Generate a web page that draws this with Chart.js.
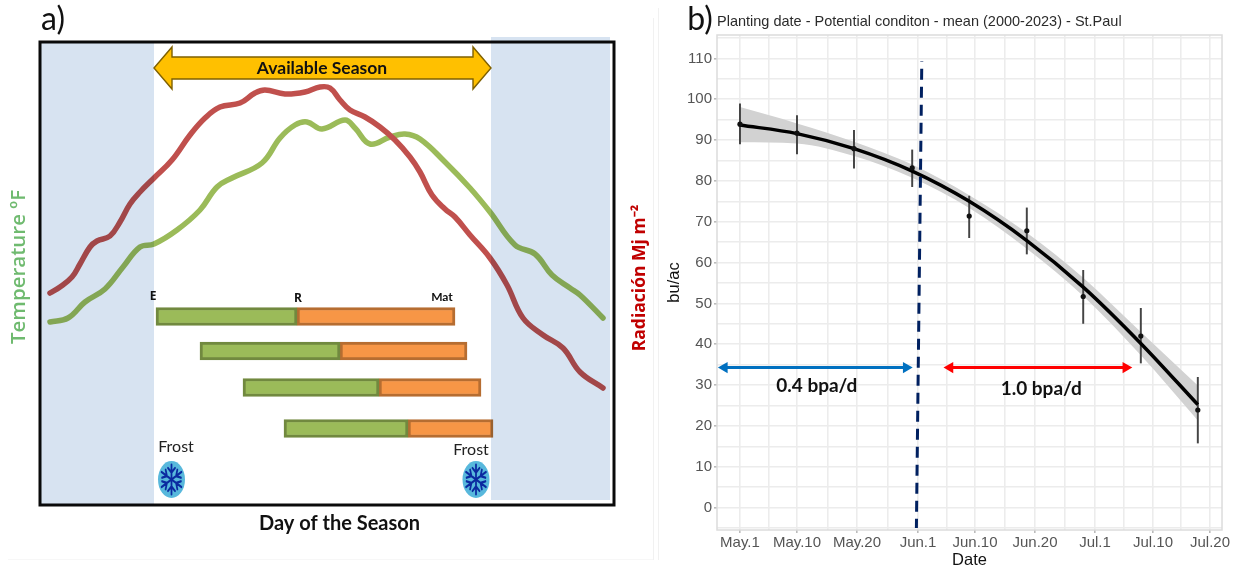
<!DOCTYPE html>
<html>
<head>
<meta charset="utf-8">
<style>
  html, body { margin: 0; padding: 0; background: #ffffff; overflow: hidden; }
  #page { position: relative; width: 1233px; height: 569px; }
  #wrapA { position: absolute; left: 0; top: 0; width: 654px; height: 569px; }
  #wrapB { position: absolute; left: 660px; top: 0; width: 573px; height: 569px; }
  canvas { display: block; }
  .rule { position: absolute; background: #f1f1f1; }
</style>
<script src="https://cdn.jsdelivr.net/npm/chart.js@4"></script>
</head>
<body>
<div id="page">
  <div class="rule" style="left:653px;top:18px;width:1px;height:542px"></div>
  <div class="rule" style="left:658px;top:8px;width:1px;height:552px"></div>
  <div class="rule" style="left:8px;top:559px;width:645px;height:1px;background:#f7f7f7"></div>
  <div id="wrapA"><canvas id="chartA" width="654" height="569"></canvas></div>
  <div id="wrapB"><canvas id="chartB" width="573" height="569"></canvas></div>
</div>
<script>
/* ---------- panel a data (day of season, relative level) ---------- */
var radDays = [10, 20, 32, 40, 50, 57, 70, 80, 90, 100, 114, 132, 150, 165, 180, 200, 215, 225, 245, 265, 280, 290, 300, 310, 325, 340, 355, 370, 380, 392, 405, 415, 430, 450, 467, 483, 503, 523, 540, 563];
var radValues = [212, 218, 228, 241, 258, 264, 269, 283, 301, 313, 327, 345, 370, 387, 398, 402, 412, 415, 411, 413, 418, 417, 405, 395, 388, 378, 365, 348, 333, 310, 296, 288, 270, 247, 220, 187, 170, 157, 133, 117];
var tempDays = [10, 28, 45, 65, 83, 100, 114, 137, 160, 177, 192, 222, 240, 255, 267, 282, 305, 315, 330, 350, 365, 380, 405, 430, 450, 475, 495, 512, 530, 540, 563];
var tempValues = [183, 187, 203, 216, 238, 258, 261, 275, 295, 318, 327, 342, 367, 380, 383, 376, 385, 377, 361, 368, 371, 366, 343, 317, 293, 260, 251, 230, 217, 210, 187];

var seasonLabel = "Available Season";
var seasonStart = 114;
var seasonEnd = 451;
var frostDays = [131.5, 436];

var cropRows = [188.5, 154, 117.5, 76.5];
var emergeDays = [116, 160, 203, 244];
var reproDays = [257, 300, 339, 368];
var matureDays = [415, 427, 441, 453];

/* ---------- panel b data ---------- */
var plantX = [0, 9.5, 19, 28.7, 38.2, 47.8, 57.2, 66.8, 76.3];
var meanYield = [93.9, 91.7, 87.9, 83.2, 71.4, 67.8, 51.7, 42, 23.9];
var errHigh = [98.9, 96, 92.4, 87.6, 76.3, 73.4, 58.1, 48.8, 31.9];
var errLow = [89.1, 86.6, 83.1, 78.6, 66.1, 62.1, 45.1, 35.4, 15.8];
var fitYield = [93.7, 91.6, 87.9, 82.4, 75, 65.4, 54, 40.2, 25.2];
var fitHigh = [98.1, 94.1, 89.6, 84, 76.5, 67.3, 56.3, 43, 29.9];
var fitLow = [89.5, 89.2, 86.1, 80.8, 73.4, 63.4, 51.8, 37.3, 21.3];

var xTickValues = [0, 9.5, 19.5, 29.67, 39.17, 49.17, 59.17, 68.83, 78.33];
var xTickLabels = ["May.1", "May.10", "May.20", "Jun.1", "Jun.10", "Jun.20", "Jul.1", "Jul.10", "Jul.20"];
var xMinorValues = [4.83, 14.67, 24.67, 34.5, 44.17, 54.17, 64, 73.5];
var yTickValues = [0, 10, 20, 30, 40, 50, 60, 70, 80, 90, 100, 110];
var yMinorValues = [-5, 5, 15, 25, 35, 45, 55, 65, 75, 85, 95, 105, 115];

var cutoffX = [30.3, 29.4];
var cutoffY = [109.3, -5];
var slowArrowX = [-2.6, 27.7];
var fastArrowX = [35, 64.3];
var arrowLevel = [34.3, 34.3];

/* ---------- shared text helper ---------- */
function drawText(ctx, text, x, y, font, color, rotate, align) {
  ctx.save();
  ctx.translate(x, y);
  if (rotate) ctx.rotate(rotate);
  ctx.font = font;
  ctx.fillStyle = color;
  ctx.textAlign = align || "center";
  ctx.textBaseline = "middle";
  ctx.fillText(text, 0, 0);
  ctx.restore();
}

/* ---------- panel a: bands, frame, season arrow, frost, texts ---------- */
var panelAPlugin = {
  id: "panelA",
  afterDatasetsDraw: function (chart) {
    var ctx = chart.ctx;
    var xs = chart.scales.x;
    var ys = chart.scales.y;
    var area = chart.chartArea;

    // frame first so the bands tint over it like in the original slide
    ctx.save();
    ctx.strokeStyle = "#0a0a0a";
    ctx.lineWidth = 3;
    ctx.strokeRect(area.left, area.top, area.right - area.left, area.bottom - area.top);
    ctx.restore();

    ctx.save();
    ctx.globalCompositeOperation = "multiply";
    ctx.fillStyle = "#d7e3f1";
    var l0 = xs.getPixelForValue(0), l1 = xs.getPixelForValue(seasonStart);
    ctx.fillRect(l0, ys.getPixelForValue(463), l1 - l0, ys.getPixelForValue(0) - ys.getPixelForValue(463));
    var r0 = xs.getPixelForValue(seasonEnd), r1 = xs.getPixelForValue(570);
    ctx.fillRect(r0, ys.getPixelForValue(468), r1 - r0, ys.getPixelForValue(5) - ys.getPixelForValue(468));
    ctx.restore();

    // double arrow
    var ax0 = xs.getPixelForValue(seasonStart), ax1 = xs.getPixelForValue(seasonEnd);
    var my = 68;
    ctx.save();
    ctx.beginPath();
    ctx.moveTo(ax0, my);
    ctx.lineTo(ax0 + 18, my - 21);
    ctx.lineTo(ax0 + 18, my - 11);
    ctx.lineTo(ax1 - 18, my - 11);
    ctx.lineTo(ax1 - 18, my - 21);
    ctx.lineTo(ax1, my);
    ctx.lineTo(ax1 - 18, my + 21);
    ctx.lineTo(ax1 - 18, my + 11);
    ctx.lineTo(ax0 + 18, my + 11);
    ctx.lineTo(ax0 + 18, my + 21);
    ctx.closePath();
    ctx.fillStyle = "#ffc000";
    ctx.fill();
    ctx.strokeStyle = "#7f6000";
    ctx.lineWidth = 1.4;
    ctx.stroke();
    ctx.restore();
    drawText(ctx, seasonLabel, 322, 68, "bold 17.5px Lato", "#111111");

    // frost icons
    frostDays.forEach(function (d, i) {
      var fx = xs.getPixelForValue(d);
      var fy = ys.getPixelForValue(25.5);
      ctx.save();
      ctx.translate(fx, fy);
      ctx.save();
      ctx.scale(13.5, 18.5);
      ctx.beginPath();
      ctx.arc(0, 0, 1, 0, Math.PI * 2);
      ctx.restore();
      ctx.fillStyle = "#58b8dc";
      ctx.fill();
      ctx.strokeStyle = "#0b2aa0";
      ctx.lineWidth = 2;
      ctx.lineCap = "round";
      for (var a = 0; a < 6; a++) {
        ctx.save();
        ctx.scale(0.88, 1.15);
        ctx.rotate(a * Math.PI / 3);
        ctx.beginPath();
        ctx.moveTo(0, 0);
        ctx.lineTo(0, -13);
        ctx.moveTo(0, -6);
        ctx.lineTo(-4, -10);
        ctx.moveTo(0, -6);
        ctx.lineTo(4, -10);
        ctx.stroke();
        ctx.restore();
      }
      ctx.restore();
      drawText(ctx, "Frost", i === 0 ? 176 : 471, i === 0 ? 447 : 450, "16px Lato", "#222222");
    });

    drawText(ctx, "E", 153, 297, "bold 12px 'Open Sans'", "#111111");
    drawText(ctx, "R", 298, 299, "bold 12px 'Open Sans'", "#111111");
    drawText(ctx, "Mat", 442, 297, "bold 12px Lato", "#111111");
    drawText(ctx, "Day of the Season", 339.5, 524, "bold 20px Lato", "#111111");
    drawText(ctx, "a)", 53, 20, "32px Lato", "#111111");
    drawText(ctx, "Temperature \u00baF", 19, 267, "600 20.5px 'Open Sans'", "#6fba6f", -Math.PI / 2);
    drawText(ctx, "Radiaci\u00f3n Mj m\u207b\u00b2", 640, 278, "bold 17.5px 'Open Sans'", "#c00000", -Math.PI / 2);
  }
};

function pairs(xs, ys) {
  return xs.map(function (x, i) { return { x: x, y: ys[i] }; });
}
function ranges(rows, from, to) {
  return rows.map(function (r, i) { return { y: r, x: [from[i], to[i]] }; });
}

new Chart(document.getElementById("chartA"), {
  type: "line",
  data: {
    datasets: [
      {
        label: "Temperature", data: pairs(tempDays, tempValues), borderColor: "#9bbb59",
        borderWidth: 5.5, pointRadius: 0, tension: 0.4, borderCapStyle: "round", order: 2
      },
      {
        label: "Radiation", data: pairs(radDays, radValues), borderColor: "#c0504d",
        borderWidth: 5.5, pointRadius: 0, tension: 0.4, borderCapStyle: "round", order: 1
      },
      {
        type: "bar", label: "Vegetative", indexAxis: "y", data: ranges(cropRows, emergeDays, reproDays),
        backgroundColor: "#9bbb59", borderColor: "#71893f", borderWidth: 3, borderSkipped: false,
        barThickness: 18, grouped: false, order: 0
      },
      {
        type: "bar", label: "Reproductive", indexAxis: "y", data: ranges(cropRows, reproDays, matureDays),
        backgroundColor: "#f79646", borderColor: "#b66d31", borderWidth: 3, borderSkipped: false,
        barThickness: 18, grouped: false, order: 0
      }
    ]
  },
  options: {
    responsive: false,
    animation: false,
    layout: { padding: { left: 40, top: 42, right: 40, bottom: 64 } },
    plugins: { legend: { display: false }, tooltip: { enabled: false } },
    scales: {
      x: { type: "linear", display: false, min: 0, max: 574, offset: false },
      y: { type: "linear", display: false, min: 0, max: 463, offset: false }
    }
  },
  plugins: [panelAPlugin]
});

/* ---------- panel b ---------- */
var panelBPlugin = {
  id: "panelB",
  afterDatasetsDraw: function (chart) {
    var ctx = chart.ctx;
    var area = chart.chartArea;
    var xs = chart.scales.x;
    var ys = chart.scales.y;
    ctx.save();
    ctx.strokeStyle = "#dcdcdc";
    ctx.lineWidth = 1.5;
    ctx.strokeRect(area.left, area.top, area.right - area.left, area.bottom - area.top);
    ctx.restore();
    drawText(ctx, "Planting date - Potential conditon - mean (2000-2023) - St.Paul", 57, 22, "14.5px 'Liberation Sans'", "#2b2b2b", 0, "left");
    drawText(ctx, "b)", 40, 20, "32px Lato", "#111111");
    drawText(ctx, "0.4 bpa/d", xs.getPixelForValue(12.8), ys.getPixelForValue(29.8), "bold 19px Lato", "#111111");
    drawText(ctx, "1.0 bpa/d", xs.getPixelForValue(50.2), ys.getPixelForValue(29), "bold 19px Lato", "#111111");
  }
};

new Chart(document.getElementById("chartB"), {
  type: "line",
  data: {
    datasets: [
      {
        label: "ribbon high", data: pairs(plantX, fitHigh), borderWidth: 0, pointRadius: 0,
        cubicInterpolationMode: "monotone", fill: "+1", backgroundColor: "#d2d2d2", order: 5
      },
      {
        label: "ribbon low", data: pairs(plantX, fitLow), borderWidth: 0, pointRadius: 0,
        cubicInterpolationMode: "monotone", fill: false, order: 5
      },
      {
        label: "fit", data: pairs(plantX, fitYield), borderColor: "#000000", borderWidth: 3.5,
        pointRadius: 0, cubicInterpolationMode: "monotone", order: 3
      },
      {
        type: "bar", label: "range", data: plantX.map(function (x, i) { return { x: x, y: [errLow[i], errHigh[i]] }; }),
        backgroundColor: "#444444", barThickness: 1.3, grouped: false, order: 4
      },
      {
        label: "mean", data: pairs(plantX, meanYield), showLine: false, pointRadius: 2.6,
        pointBackgroundColor: "#111111", pointBorderWidth: 0, order: 2
      },
      {
        label: "cutoff", data: pairs(cutoffX, cutoffY), borderColor: "#002060", borderWidth: 3,
        borderDash: [11, 7], borderDashOffset: 10.5, pointRadius: 0, order: 1
      },
      {
        label: "0.4", data: pairs(slowArrowX, arrowLevel), borderColor: "#0070c0", backgroundColor: "#0070c0",
        borderWidth: 3, pointStyle: "triangle", pointRotation: [-90, 90], pointRadius: 6.5, pointBorderWidth: 0, order: 0
      },
      {
        label: "1.0", data: pairs(fastArrowX, arrowLevel), borderColor: "#ff0000", backgroundColor: "#ff0000",
        borderWidth: 3, pointStyle: "triangle", pointRotation: [-90, 90], pointRadius: 6.5, pointBorderWidth: 0, order: 0
      }
    ]
  },
  options: {
    responsive: false,
    animation: false,
    layout: { padding: { left: 0, top: 35, right: 11, bottom: 0 } },
    plugins: { legend: { display: false }, tooltip: { enabled: false } },
    scales: {
      x: {
        type: "linear", min: -3.83, max: 80.33, offset: false,
        afterFit: function (s) { s.height = 39; },
        afterBuildTicks: function (s) {
          s.ticks = xTickValues.concat(xMinorValues).sort(function (a, b) { return a - b; })
            .map(function (v) { return { value: v }; });
        },
        grid: {
          color: "#ececec", lineWidth: 1.6, tickLength: 3, offset: false,
          tickColor: function (c) { return c.tick && xTickValues.indexOf(c.tick.value) >= 0 ? "#bbbbbb" : "rgba(0,0,0,0)"; }
        },
        border: { display: false },
        ticks: {
          autoSkip: false, maxRotation: 0, padding: 1, color: "#555555",
          font: { family: "'Liberation Sans'", size: 15 },
          callback: function (v) {
            var i = xTickValues.indexOf(v);
            return i >= 0 ? xTickLabels[i] : "";
          }
        },
        title: {
          display: true, text: "Date", color: "#111111", padding: 0,
          font: { family: "'Liberation Sans'", size: 16.5, lineHeight: 1 }
        }
      },
      y: {
        type: "linear", min: -5.5, max: 115.75,
        afterFit: function (s) { s.width = 57; },
        afterBuildTicks: function (s) {
          s.ticks = yTickValues.concat(yMinorValues).sort(function (a, b) { return a - b; })
            .map(function (v) { return { value: v }; });
        },
        grid: {
          color: "#ececec", lineWidth: 1.6, tickLength: 3,
          tickColor: function (c) { return c.tick && yTickValues.indexOf(c.tick.value) >= 0 ? "#bbbbbb" : "rgba(0,0,0,0)"; }
        },
        border: { display: false },
        ticks: {
          autoSkip: false, padding: 2, color: "#555555",
          font: { family: "'Liberation Sans'", size: 15 },
          callback: function (v) { return yTickValues.indexOf(v) >= 0 ? String(v) : ""; }
        },
        title: {
          display: true, text: "bu/ac", color: "#111111", padding: { top: 6, bottom: 0 },
          font: { family: "'Liberation Sans'", size: 16.5, lineHeight: 1 }
        }
      }
    }
  },
  plugins: [panelBPlugin]
});
</script>
</body>
</html>
